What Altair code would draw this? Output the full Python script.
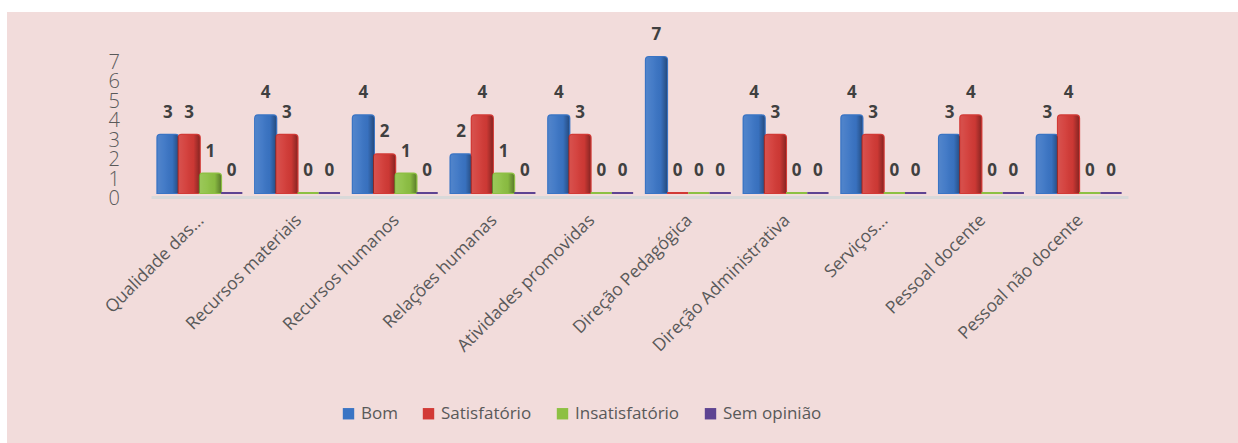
import altair as alt
import pandas as pd

categories = ["Qualidade das...", "Recursos materiais", "Recursos humanos", "Relações humanas",
              "Atividades promovidas", "Direção Pedagógica", "Direção Administrativa",
              "Serviços...", "Pessoal docente", "Pessoal não docente"]
series = ["Bom", "Satisfatório", "Insatisfatório", "Sem opinião"]
bom = [3, 4, 4, 2, 4, 7, 4, 4, 3, 3]
satisfatorio = [3, 3, 2, 4, 3, 0, 3, 3, 4, 4]
insatisfatorio = [1, 0, 1, 1, 0, 0, 0, 0, 0, 0]
sem_opiniao = [0, 0, 0, 0, 0, 0, 0, 0, 0, 0]
y_ticks = [0, 1, 2, 3, 4, 5, 6, 7]
colors = ["#3A74C4", "#D23A36", "#8DC043", "#5E4492"]

rows = []
for i, c in enumerate(categories):
    for s, vals in zip(series, [bom, satisfatorio, insatisfatorio, sem_opiniao]):
        rows.append({"cat": c, "serie": s, "valor": vals[i]})
df = pd.DataFrame(rows)
ticks_df = pd.DataFrame({"valor": y_ticks})

W, H = 977, 136
PL, PT = 151, 57

x_axis = alt.Axis(title=None, labelAngle=-45, labelAlign="right", labelBaseline="top",
                  labelFont="Open Sans", labelFontSize=17.5, labelColor="#595959",
                  ticks=False, domain=True, domainColor="#D9D9D9", domainWidth=3,
                  offset=4, labelPadding=14, labelOffset=-5, labelLimit=300,
                  labelOverlap=False, zindex=1)
y_axis = alt.Axis(title=None, labels=False, grid=False, domain=False, ticks=False)

x = alt.X("cat:N", sort=categories, scale=alt.Scale(paddingInner=0.13, paddingOuter=0.065),
          axis=x_axis)
xo = alt.XOffset("serie:N", sort=series, scale=alt.Scale(paddingInner=0, paddingOuter=0))
y = alt.Y("valor:Q", scale=alt.Scale(domain=[0, 7], nice=False), axis=y_axis)
color = alt.Color("serie:N", sort=series, scale=alt.Scale(domain=series, range=colors),
                  legend=alt.Legend(title=None, orient="none", direction="horizontal",
                                    legendX=340 - PL, legendY=405 - PT,
                                    symbolType="square", symbolSize=130, symbolStrokeWidth=0,
                                    labelFont="Open Sans", labelFontSize=17, labelColor="#595959",
                                    columnPadding=22, labelOffset=4, zindex=1))

panel = alt.Chart(pd.DataFrame({"a": [0]})).mark_rect(color="#F2DCDB").encode(
    x=alt.value(7 - PL), x2=alt.value(1238 - PL), y=alt.value(12 - PT), y2=alt.value(443 - PT))

bars = alt.Chart(df).mark_bar(strokeWidth=2, cornerRadiusTopLeft=3, cornerRadiusTopRight=3).encode(
    x=x, xOffset=xo, y=y, color=color, stroke=alt.Stroke("serie:N", sort=series,
                                                           scale=alt.Scale(domain=series, range=colors),
                                                           legend=None))

shade = alt.Chart(df).mark_bar(
    cornerRadiusTopLeft=3, cornerRadiusTopRight=3,
    fill={"gradient": "linear", "x1": 0, "y1": 0, "x2": 1, "y2": 0,
          "stops": [{"offset": 0, "color": "rgba(255,255,255,0.12)"},
                    {"offset": 0.35, "color": "rgba(255,255,255,0.05)"},
                    {"offset": 0.7, "color": "rgba(0,0,0,0.03)"},
                    {"offset": 1, "color": "rgba(0,0,0,0.35)"}]}).encode(
    x=x, xOffset=xo, y=y)

labels = alt.Chart(df).mark_text(font="Open Sans", fontSize=17, fontWeight="bold", color="#404040",
                                 dy=-22, baseline="middle").encode(
    x=x, xOffset=xo, y=y, text="valor:Q")

ytext = alt.Chart(ticks_df).mark_text(font="Open Sans", fontSize=20, fontWeight=300,
                                      color="#595959", align="right", baseline="middle",
                                      dy=6).encode(
    x=alt.value(-31), y=y, text="valor:Q")

chart = alt.layer(panel, bars, shade, labels, ytext).properties(
    width=W, height=H,
    autosize=alt.AutoSizeParams(type="none"),
    padding={"left": PL, "top": PT, "right": 1238 - PL - W, "bottom": 443 - PT - H},
    background="white",
).configure_view(stroke=None)

chart.save("out.html", embed_options={"renderer": "svg", "actions": False})
